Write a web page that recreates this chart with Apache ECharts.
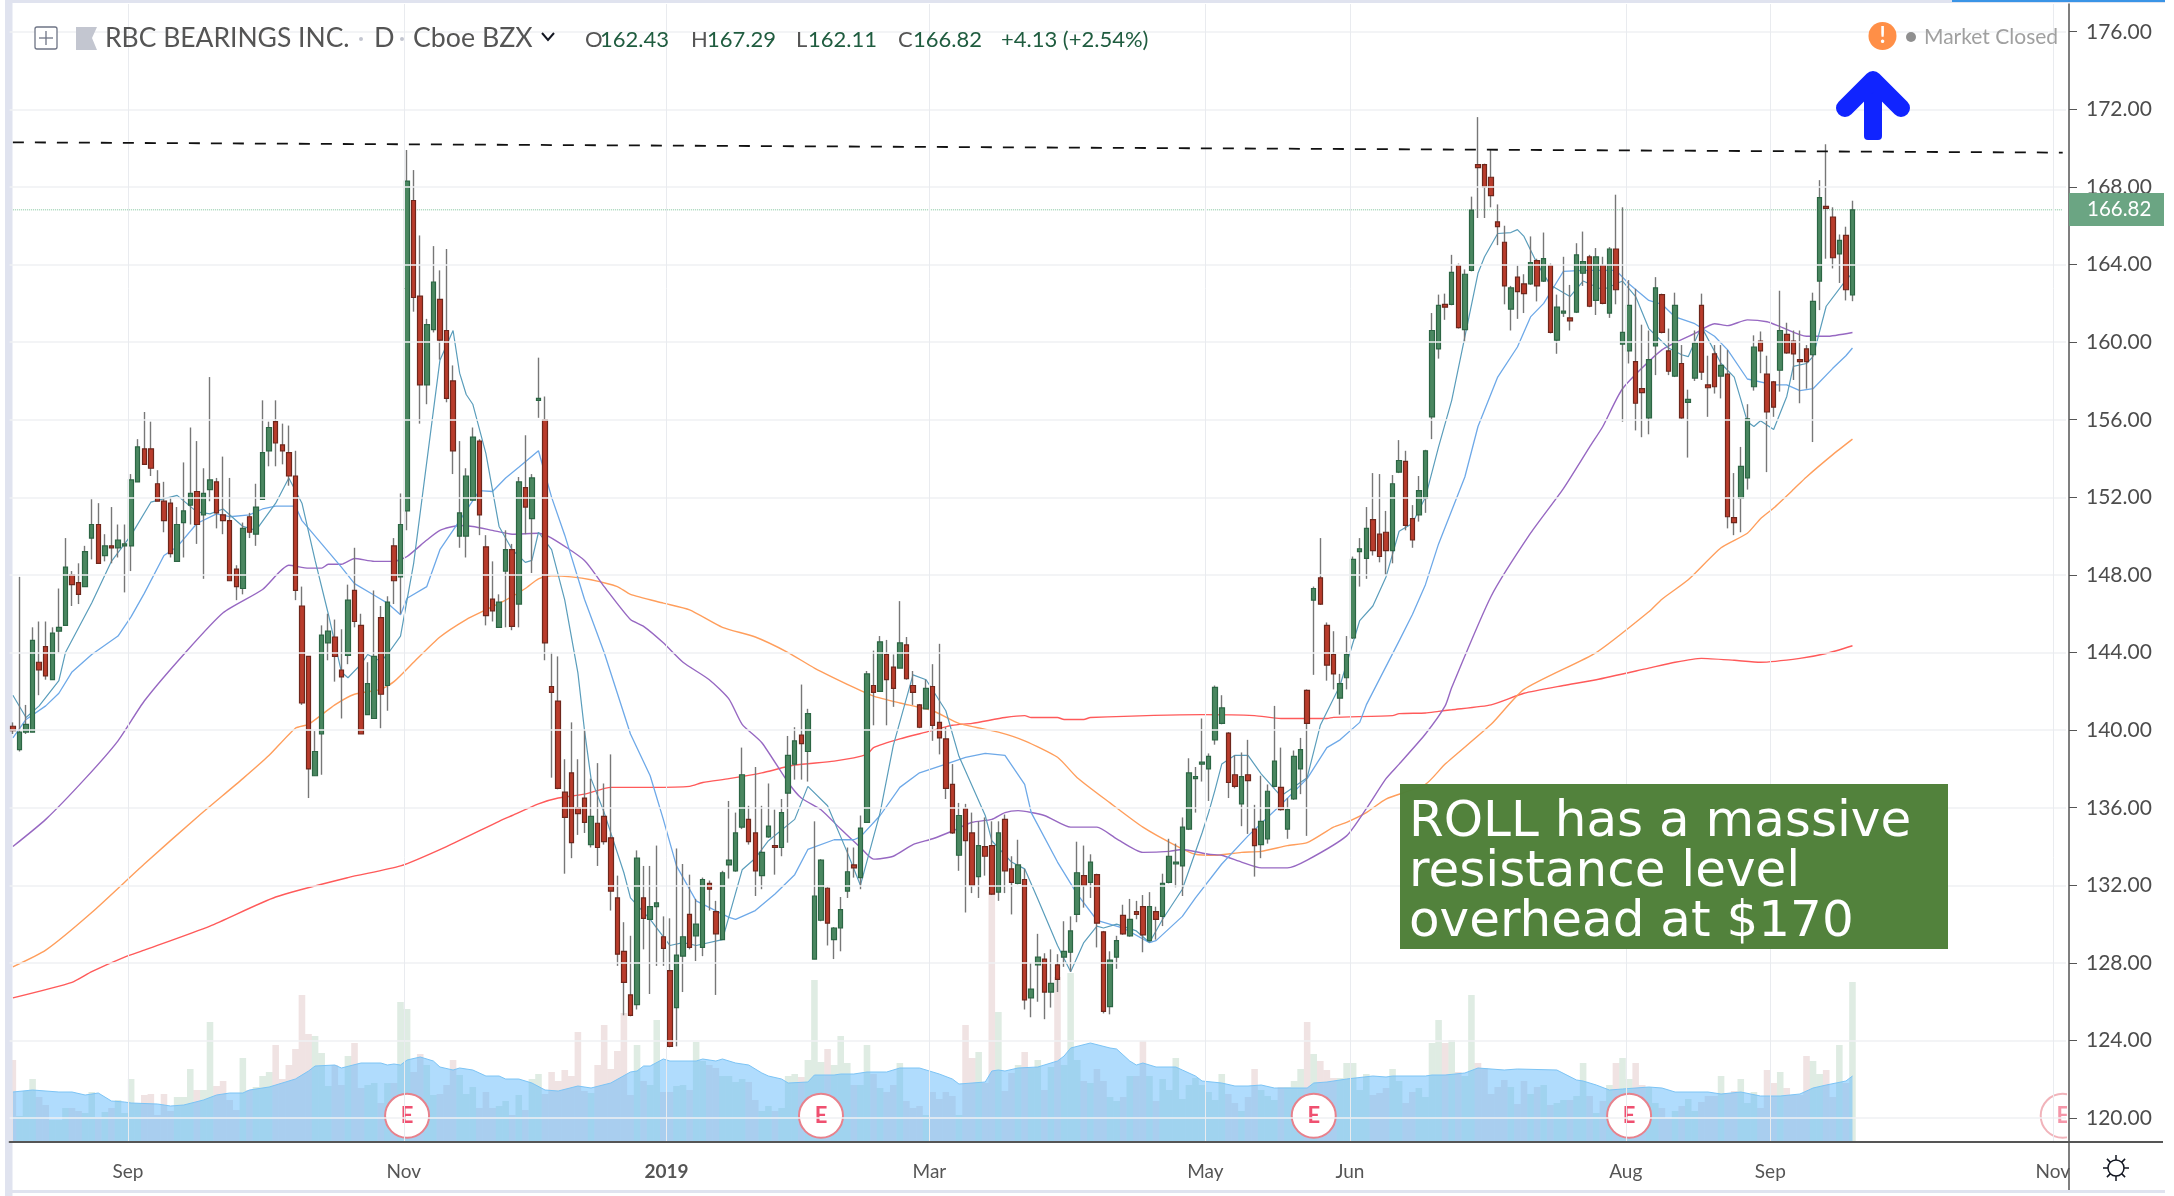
<!DOCTYPE html>
<html>
<head>
<meta charset="utf-8">
<style>
  html, body { margin: 0; padding: 0; background: #fff; }
  #chart { width: 2174px; height: 1196px; }
</style>
<script src="https://cdn.jsdelivr.net/npm/echarts@6/dist/echarts.min.js"></script>
</head>
<body>
<div id="chart"></div>
<script>
// daily candles, Aug 2018 - Sep 2019
const opens = [
  140.2,139.0,139.9,139.9,143.5,144.3,142.6,145.1,145.4,148.0,
  147.6,147.4,149.9,150.6,149.0,149.5,149.4,149.5,149.5,152.8,
  154.5,154.5,152.7,151.8,151.7,148.7,150.7,151.6,152.3,151.1,
  152.4,152.8,151.1,150.8,148.3,147.3,151.0,150.1,151.9,154.4,
  155.9,154.7,154.3,153.1,146.4,143.8,137.65,139.8,144.5,144.8,
  143.1,143.85,147.2,145.4,140.8,140.6,145.8,142.3,149.5,147.9,
  151.3,167.3,162.37,157.8,160.65,162.2,160.6,158.0,150.0,150.0,
  151.85,154.9,149.45,146.75,145.3,148.2,149.3,146.5,152.5,150.9,
  157.0,156,142.25,141.5,136.8,137.8,136,136.5,134.1,135.2,
  135.55,134.45,131.35,128.6,126.35,125.85,131.35,130.25,130.9,129.35,
  127.6,125.7,128.35,130.5,129.4,128.8,132.1,130.65,129.2,133.05,
  132.75,135,135.4,134.7,132.5,134.5,134.05,133.95,136.75,138.25,
  139.75,138.9,128.2,130.2,131.85,129.2,129.8,131.7,133.05,132.4,
  135.25,142.3,142,143.9,143.25,143.2,144.4,142.3,141.3,141.1,
  142.25,140.4,139.55,137.2,133.55,135.95,134.7,132.45,134,134.05,
  131.65,135.4,132.85,132.1,132.3,126.2,127.9,128.2,126.5,127.9,
  128.3,128.55,130.5,132.5,132.15,132.55,129.6,125.75,128.3,130.45,
  129.4,130.65,130.9,129.15,130.65,130.4,132.15,133.1,133,134.9,
  137.5,138.25,138,139.5,140.35,139.85,137.7,136.2,137.7,134.9,
  134.1,134.4,137.1,137.05,134.9,136.45,138,142.05,146.7,147.85,
  145.4,143.9,141.65,142.7,144.75,149.2,148.85,150.85,150.1,150.2,
  149.25,153.3,153.85,150.9,151.1,151.95,156.15,159.65,161.95,161.95,
  163.95,160.65,163.7,169.15,169.15,168.5,166.2,165.15,161.7,163.35,
  163,163,164.2,163.15,163.95,160.1,161.5,161.25,161.55,163.55,
  164.4,162.15,163.95,161.5,164.8,159.9,159.55,159,157.6,156.1,
  159.8,162.45,159.55,158.25,158.9,156.9,158.15,161.9,157.8,159.4,
  158.25,158.35,150.95,151.95,153,157.7,160.05,158.35,157.95,158.55,
  160.4,160.05,159.1,159.65,159.35,163.15,167,166.45,164.55,165.5,162.43
]
const closes = [
  139.97,139.9,140.3,144.63,143.1,142.8,145.0,145.3,148.4,147.5,
  147.0,149.2,150.6,148.6,149.5,149.4,149.8,149.6,152.9,154.6,
  153.7,153.5,151.8,150.8,149.1,150.6,151.3,152.2,150.6,152.2,
  152.9,151.2,150.8,147.7,147.4,150.4,150.2,151.5,154.3,155.6,
  154.8,154.4,153.1,147.2,141.4,138.0,138.9,144.9,145.1,143.8,
  142.75,146.7,145.6,139.8,142.4,143.8,141.85,146.6,147.7,150.6,
  168.3,162.3,157.8,160.9,163.1,160.1,157.1,154.4,151.2,153.1,
  155.1,151.1,145.9,146.15,146.6,149.3,145.35,152.8,151.5,153.0,
  157.1,144.5,141.95,137,135.5,134.2,135.7,135.25,135.55,133.95,
  134.25,131.7,128.45,127,125.3,133.4,130.3,130.9,131.1,128.75,
  123.7,128.4,129.35,128.8,130,132.3,131.8,129.5,132.65,133.3,
  134.7,137.7,134.25,132.75,133.7,135.05,133.95,135.75,138.7,139.45,
  139.3,140.85,131.45,133.3,130.05,129.8,130.75,132.7,132.9,134.95,
  142.9,141.95,144.55,142.6,142.15,144.5,142.65,141.95,140.15,142.15,
  140.25,139.6,137,134.7,135.6,134.3,132,134.05,133.5,131.55,
  134.7,132.75,132.15,133.05,126.1,126.65,128.3,126.5,126.95,127.15,
  128.6,129.65,132.65,132,133.2,130.05,125.5,128.15,129.15,129.5,
  130.25,130.5,129.45,130.9,130.25,132.1,133.5,133.2,135,137.8,
  137.6,138.35,138.65,142.2,141.15,137.3,137.1,137.6,137.4,134.05,
  135.3,136.85,138.4,135.9,135.9,138.65,139,140.35,147.3,146.5,
  143.35,142.9,142.4,143.9,148.8,149.35,150.4,149.25,148.95,149.25,
  152.7,153.9,150.55,149.8,152.35,154.4,160.6,161.9,161.8,163.6,
  160.75,163.5,166.8,169,168,167.55,165.95,162.9,162.8,162.6,
  162.5,164.1,162.9,164.3,160.5,161.8,161.6,161.1,164.5,164.15,
  161.85,164.4,162,164.8,162.7,160.5,161.9,156.85,157.4,159.1,
  162.8,160.5,158.5,161.9,156.1,157.05,159.95,158.45,157.65,157.7,
  158.8,151,150.7,153.6,156.05,159.75,159.55,156.4,156.65,160.6,
  159.45,159.4,159,159,162.1,167.45,166.9,164.35,165.25,162.7,166.82
]
const highs = [
  140.4,147.9,141.3,145.3,145.6,145.6,145.3,147.3,149.9,148.2,
  148.6,149.5,151.9,151.7,150.1,151.5,150.6,150.6,153.2,155.0,
  156.4,155.9,153.4,152.8,152.0,151.5,153.8,155.6,154.9,153.5,
  158.2,153.0,154.1,153.0,148.5,150.7,151.2,152.7,157.0,155.9,
  157.0,155.8,155.7,154.4,147.4,143.8,139.95,145.4,146.0,145.7,
  145.2,147.5,149.4,146.0,143.5,147.2,146.4,146.9,149.9,152.2,
  169.9,168.87,165.5,161.2,164.95,163.7,164.8,158.8,154.9,153.5,
  155.6,155.0,150.05,148.7,147.0,150.3,149.6,153.05,155.2,153.2,
  159.2,157.2,144,143.8,138.5,140.4,138.5,140,137.5,138.3,
  137.25,138.75,132.5,130.1,129.4,133.8,133,133,134.05,130.4,
  130.3,133.9,133.1,132.55,131.3,132.4,132.25,131.2,132.75,136.35,
  135.75,139.1,136.1,138.1,136.1,137.25,135.9,136.45,139.7,140.15,
  142.35,141.1,135.3,133.35,131.9,129.85,131.4,133.95,133.95,135.6,
  143.05,144.1,144.85,144.65,143.9,146.65,144.8,143.05,141.35,142.6,
  143.4,144.45,140.15,138.25,136.25,136.2,135.75,135.3,135.5,135.3,
  135.3,135.65,133.5,134.35,132.85,128,129.5,128.5,128.7,128.45,
  130.15,130.4,134.25,134.05,133.6,132.6,129.65,128.6,129.4,131,
  131.3,131.2,131.5,131.65,130.9,132.6,134.4,134.15,135.5,138.55,
  138.1,140.6,138.8,142.3,141.8,139.9,138.7,138.85,139.5,136.15,
  137.65,137.2,141.25,139.1,136.5,138.95,139.6,142.1,147.4,149.9,
  145.55,145.1,142.9,144.85,148.95,149.9,151.5,153.25,153.2,151.3,
  153.15,154.95,154.4,151.6,153.1,154.45,161.5,162.45,162.5,164.5,
  164.05,163.75,167.5,171.6,169.2,169.9,167.1,166,162.9,163.95,
  163.5,165.45,164.3,165.65,164.05,162.45,164.4,162.95,165.1,165.7,
  164.5,164.85,164.4,164.9,167.6,166.95,163.2,162.75,160.9,160.6,
  163.35,162.5,160.7,162.55,159.85,157.55,160.6,162.5,159.3,159.85,
  159.85,159.6,153.25,154.6,156.8,160.35,160.55,159.3,158,162.65,
  161,160.6,160.6,159.85,162.55,168.35,170.2,166.95,165.55,165.95,167.29
]
const lows = [
  139.8,138.9,139.8,139.9,141.8,142.6,142.6,144.0,145.4,146.4,
  146.5,147.4,148.8,148.6,148.7,148.6,148.9,147.1,148.2,152.8,
  153.7,153.1,151.8,150.2,148.9,148.7,148.9,150.6,149.6,147.8,
  151.8,150.4,150.1,147.7,146.7,147.0,149.9,149.5,151.9,153.6,
  153.6,153.7,152.6,146.7,141.3,136.5,137.65,137.7,143.6,142.5,
  140.6,143.4,145.3,139.8,140.8,140.6,140.1,141.0,146.5,146.0,
  150.3,161.57,155.8,156.8,160.5,159.1,156.9,153.2,149.4,148.9,
  151.85,150.05,145.4,145.6,145.3,145.3,145.15,145.3,150.1,148.1,
  156.1,143.6,137.55,136.95,132.6,133.4,134.6,134.7,133.95,133,
  134.1,130.7,127.85,125.3,125.25,125.6,128.7,126.4,127.85,127.85,
  123.65,123.7,126.5,128.7,128.1,128.35,130.7,126.35,129.2,132.35,
  132.7,134.9,134.1,131.45,131.8,134.45,132.55,133.5,134.2,137.45,
  137.45,137.35,128.2,130.15,128.9,128.2,128.6,131.35,132.4,131.8,
  135.25,140.25,142,140.25,141.2,143.2,142.6,141.3,140.1,141.1,
  139.45,138.75,136.45,134.65,132.75,130.6,131.6,131.35,132.5,131.5,
  131.2,131.6,130.5,132.05,125.6,125.2,126,125.1,125.7,126.5,
  127.8,127.55,130.1,130.85,131.35,128.8,125.4,125.35,127.7,129.45,
  129.35,130.25,128.55,129.1,129.2,129.9,132.1,131.9,131.45,134.85,
  135.75,137.35,136.35,139.25,140.3,136.5,137,135.05,134.65,132.45,
  133.4,134.15,137.05,135.85,134.4,136.4,136.7,134.55,142.85,146.45,
  142.55,142.1,140.8,142.1,144.7,147.4,147.8,149,148.65,148,
  148.6,153.25,150.3,149.4,150.75,151.2,155,159.15,161.15,161.9,
  160.7,160,163.65,166.4,166.4,166.95,165,161.95,160.6,161.2,
  161.5,162.95,162.1,163.1,160.45,159.4,161.3,160.6,161.5,162.9,
  161.8,161.4,161.95,161.25,161.95,155.9,158.9,155.45,155.1,155.25,
  158.3,160.45,158.3,158.2,156.05,154.05,158,158.05,156.15,157.35,
  157.1,150.4,150.05,150.2,152.4,157.5,158.4,153.3,156.15,157.45,
  159.4,158.05,156.85,157.6,154.85,161.65,164.3,163.8,163.05,162.15,162.11
]
const volumes = [
  82,26,51,63,45,37,22,22,34,34,31,29,50,25,30,34,42,29,63,39,
  47,48,27,48,31,45,45,73,52,52,120,56,61,42,32,84,52,55,66,70,
  97,63,77,93,147,108,106,89,56,77,57,86,99,54,57,59,39,59,59,140,
  133,70,88,77,47,48,57,82,67,48,55,34,50,34,36,41,27,47,32,63,
  68,48,70,61,72,66,110,51,49,77,117,73,91,129,47,97,61,57,122,50,
  50,56,57,52,100,81,77,74,66,66,60,63,60,42,31,36,31,34,66,68,
  65,82,162,80,93,77,106,79,57,57,97,68,54,50,57,79,41,34,36,27,
  50,43,50,46,27,117,84,90,59,250,130,51,69,77,90,74,82,52,75,165,
  77,169,82,61,59,73,61,45,41,45,66,66,101,66,41,63,52,84,43,57,
  64,57,50,42,68,48,39,31,45,73,52,46,42,55,55,61,73,120,88,81,
  72,64,64,79,79,52,68,47,49,54,73,61,39,50,54,45,99,122,99,102,
  70,66,147,79,74,48,55,62,55,38,61,48,55,57,37,39,42,42,46,79,
  46,29,41,57,79,84,63,79,57,55,39,34,24,31,36,43,31,40,46,46,
  66,49,51,63,39,50,34,72,59,70,54,47,47,86,81,68,72,45,97,59,160
]

// moving averages and the volume average: [candle index, value] at each bend of the line
const maTeal = [[0,141.8],[2,140.65],[4,141.25],[7,142.55],[8,144],[12,146.55],[15,148.7],[18,150.05],[21,151.75],[25,152.1],[28,151.25],[30,151.15],[32,151.4],[35,150.5],[37,150.3],[40,151.7],[42,153],[44,151.7],[46,148.75],[48,146],[50,143],[51,142.7],[53,143.4],[54,143.9],[56,143.55],[57,143.9],[59,144.85],[61,148.6],[65,159.07],[67,160.6],[68,158.4],[69,157.3],[70,156.8],[72,154.25],[74,150.5],[76,149.3],[78,148.65],[79,148.75],[80,150.2],[82,149.3],[84,146.7],[86,142.95],[87,140],[88,137.5],[90,135.75],[93,132.65],[94,131.35],[97,130.25],[100,128.9],[102,129.05],[104,128.9],[108,129.2],[110,131.6],[111,132.8],[113,133.4],[115,134.3],[119,135.4],[121,137.1],[124,136.1],[127,133.7],[129,132],[132,135.75],[134,139.2],[137,142.85],[139,142.6],[142,141],[144,138.65],[148,135.6],[149,134.3],[152,133.2],[154,132.85],[156,131.3],[159,128.9],[161,127.55],[163,129.05],[165,129.9],[166,129.8],[168,130],[171,129.65],[173,129.05],[175,130.25],[178,131.8],[181,134.7],[182,135.75],[183,136.95],[184,138.25],[186,138.7],[188,138.7],[190,137.75],[193,136.6],[197,137.55],[199,140.25],[202,142.3],[205,145.65],[207,146.4],[209,147.9],[211,150.25],[213,150.65],[215,152],[217,154.6],[219,157],[223,163.55],[224,164.4],[226,165.6],[228,165.65],[229,165.8],[230,165.45],[232,164.05],[234,162.95],[237,162.35],[239,163.15],[242,162.7],[245,163.15],[247,162.35],[249,160.7],[252,159.7],[254,159.35],[255,159.25],[257,160.8],[260,158.9],[262,158.2],[264,155.9],[265,155.65],[266,155.95],[268,155.5],[270,157.2],[271,158.75],[273,158.9],[274,159.25],[276,161.85],[279,163.2],[280,163.55]]
const maBlue = [[0,139.6],[2,140.55],[5,141.25],[7,141.9],[9,143],[12,143.9],[16,144.85],[18,145.85],[20,147.05],[23,149],[25,149.45],[28,150.65],[31,151.15],[33,151],[36,151.1],[38,151.4],[40,151.55],[43,151.55],[44,150.8],[47,149.6],[50,148.4],[52,147.55],[55,146.95],[57,146.55],[59,145.95],[60,146.8],[63,147.4],[65,149.3],[68,150.8],[71,152.35],[73,152.3],[75,153],[77,153.55],[80,154.4],[82,152],[84,150.05],[87,146.75],[90,144],[94,139.8],[97,137.65],[99,135.4],[101,133],[104,131.2],[109,130.35],[110,130.25],[113,130.7],[116,131.55],[119,132.55],[121,133.85],[125,134.35],[128,134.35],[129,134.5],[132,135.6],[135,137.05],[138,137.8],[142,138.25],[145,138.6],[148,138.8],[151,138.7],[154,137.2],[155,135.75],[159,133.2],[162,131.55],[165,130.2],[169,129.8],[173,129.05],[174,129.15],[178,130.4],[180,131.35],[184,133.1],[188,134.55],[193,136.15],[197,137.5],[200,139.1],[202,139.5],[205,140.4],[206,141.3],[211,144.6],[213,145.95],[215,147.5],[217,149.6],[221,153.05],[223,155.65],[226,158.2],[229,159.75],[231,161.3],[233,162],[235,163.1],[236,163.65],[239,163.7],[244,163.7],[246,163],[249,162.15],[251,161.95],[253,161.3],[256,160.95],[259,160.3],[261,159.6],[264,158.1],[268,157.8],[270,157.8],[272,157.5],[274,157.6],[277,158.65],[279,159.3],[280,159.7]]
const maPurple = [[0,134],[5,135.4],[11,137.5],[16,139.45],[20,141.5],[26,143.9],[32,146.05],[38,147.25],[42,148.5],[45,148.35],[47,148.35],[48,148.55],[50,148.55],[52,148.85],[55,148.7],[58,148.7],[60,148.95],[63,149.8],[65,150.3],[68,150.55],[70,150.5],[73,150.3],[76,150.1],[80,150.15],[82,149.9],[87,148.75],[90,147.4],[94,145.7],[96,145.35],[99,144.5],[102,143.5],[106,142.6],[109,141.6],[111,140.3],[114,139.35],[118,137.3],[120,136.5],[123,135.9],[126,134.9],[129,133.95],[131,133.35],[134,133.5],[137,134.1],[140,134.4],[143,134.8],[146,135.25],[149,135.4],[151,135.75],[153,135.85],[157,135.6],[161,135],[165,135],[168,134.4],[172,133.7],[176,133.75],[178,133.85],[182,133.6],[184,133.55],[187,133.2],[190,132.9],[194,132.9],[197,133.3],[203,134.55],[206,135.95],[209,137.5],[211,138.25],[215,139.8],[218,141.25],[219,142.2],[225,146.9],[231,150.15],[236,152.45],[240,154.6],[242,155.65],[245,157.6],[251,159.6],[256,160.45],[259,160.95],[261,160.85],[264,161.15],[267,161.05],[269,160.8],[273,160.3],[276,160.3],[280,160.5]]
const maOrange = [[0,127.8],[5,128.66],[12,130.6],[20,133.1],[28,135.5],[35,137.5],[39,138.7],[43,140.1],[45,140.3],[49,141.3],[52,141.85],[56,142.1],[58,142.5],[61,143.5],[65,144.8],[69,145.7],[72,146.2],[75,146.7],[78,147.3],[80,147.8],[82,147.95],[85,147.9],[88,147.75],[92,147.4],[94,147],[99,146.55],[103,146.2],[108,145.3],[113,144.8],[118,144],[122,143.2],[128,142.2],[131,141.75],[135,141.4],[140,141],[144,140.35],[150,139.9],[154,139.45],[159,138.6],[162,137.55],[167,136.25],[172,135],[177,134.05],[180,133.6],[183,133.55],[187,133.7],[190,133.75],[194,134.05],[197,134.2],[201,135],[203,135.25],[206,135.75],[209,136.45],[215,137.2],[218,138.25],[225,140.3],[230,142.1],[241,144],[249,146.1],[251,146.75],[255,147.75],[260,149.4],[264,150.15],[266,150.9],[268,151.45],[271,152.4],[273,153.05],[277,154.2],[280,155]]
const maRed = [[0,126.2],[9,127],[12,127.55],[17,128.3],[20,128.66],[30,129.9],[40,131.4],[51,132.4],[59,133],[66,134],[74,135.3],[76,135.6],[80,136.2],[83,136.5],[87,136.7],[91,137.05],[97,137.05],[103,137.1],[105,137.3],[109,137.5],[114,137.8],[119,138.2],[125,138.4],[130,138.75],[131,139.1],[135,139.55],[139,139.9],[143,140.25],[146,140.35],[151,140.65],[154,140.75],[155,140.65],[159,140.65],[160,140.55],[163,140.55],[164,140.65],[181,140.8],[189,140.75],[193,140.6],[200,140.6],[201,140.66],[210,140.75],[211,140.85],[215,140.88],[217,140.97],[219,141.05],[225,141.3],[230,141.9],[236,142.3],[241,142.6],[249,143.2],[253,143.5],[257,143.7],[262,143.6],[266,143.5],[272,143.7],[276,143.95],[280,144.35]]
const volumeAvg = [[0,50],[3,52],[7,50],[9,50],[11,47],[13,49],[15,41],[17,40],[18,39],[22,38],[24,36],[26,37],[29,42],[31,47],[33,49],[35,49],[36,52],[39,55],[43,63],[45,71],[46,76],[49,77],[50,74],[53,79],[56,79],[57,77],[58,78],[59,77],[60,82],[62,85],[64,81],[65,75],[67,72],[68,74],[70,72],[72,66],[74,66],[75,63],[77,63],[79,59],[81,52],[83,51],[86,56],[88,54],[91,59],[94,70],[95,71],[96,76],[97,76],[99,83],[100,81],[104,81],[105,83],[107,81],[108,83],[110,79],[112,77],[114,69],[115,66],[117,63],[118,59],[121,60],[122,67],[125,67],[126,68],[128,68],[130,70],[133,70],[135,74],[138,74],[141,68],[143,63],[144,58],[148,60],[149,71],[150,72],[151,71],[153,74],[156,75],[159,81],[160,86],[161,94],[164,99],[167,94],[168,93],[170,81],[171,77],[172,79],[174,75],[177,75],[178,72],[180,66],[181,61],[184,59],[186,56],[188,56],[190,57],[192,54],[197,54],[198,59],[200,60],[203,63],[207,66],[209,65],[210,66],[215,66],[216,67],[218,67],[221,69],[223,74],[227,72],[229,73],[235,72],[238,62],[239,61],[241,57],[243,52],[245,53],[249,55],[251,54],[253,50],[258,50],[260,48],[263,50],[266,46],[269,46],[272,48],[274,54],[276,57],[279,61],[280,66]]

// overhead resistance line and last price
const resistance = [[0,170.3],[312,169.77]]
const lastPrice = 166.82

// axes
const barSlots = 313
const priceTicks = [120,124,128,132,136,140,144,148,152,156,160,164,168,172,176]
const monthIndex = [18,60,100,140,182,204,246,268,311]
const monthNames = ['Sep','Nov','2019','Mar','May','Jun','Aug','Sep','Nov']
const earningsIndex = [60,123,198,246]
const nextEarningsIndex = [312]

const categories = []
for (let i = 0; i < barSlots; i++) categories.push(String(i))

const wickData = opens.map((o, i) => [o, closes[i], lows[i], highs[i]])
const bodyData = opens.map((o, i) => [o, closes[i], Math.min(o, closes[i]), Math.max(o, closes[i])])
const volumeData = volumes.map((v, i) => ({
  value: v,
  itemStyle: { color: closes[i] >= opens[i] ? 'rgba(76,150,100,0.18)' : 'rgba(170,100,100,0.18)' }
}))

function maSeries(data, color, width, smooth) {
  return {
    type: 'line',
    data: data,
    symbol: 'none',
    smooth: smooth || false,
    z: 3,
    silent: true,
    lineStyle: { color: color, width: width }
  }
}

function earningsSeries(index, opacity) {
  return {
    type: 'scatter',
    data: index.map(i => [i, 120.12]),
    symbol: 'circle',
    symbolSize: 44,
    z: 2.5,
    silent: true,
    itemStyle: { color: '#fff', borderColor: '#e8818c', borderWidth: 2, opacity: opacity },
    label: { show: true, position: 'inside', formatter: 'E', color: '#ef5070', opacity: opacity, fontWeight: 'bold', fontFamily: 'Lato', fontSize: 22 }
  }
}

function txt(text, x, y, size, color, extra) {
  return {
    type: 'text',
    z: 20,
    x: x,
    y: y,
    scaleX: extra && extra.scaleX ? extra.scaleX : 1,
    style: {
      text: text,
      fill: color,
      font: (extra && extra.weight ? extra.weight + ' ' : '') + size + 'px ' + (extra && extra.family ? extra.family : 'Lato'),
      verticalAlign: 'middle',
      align: extra && extra.align ? extra.align : 'left'
    }
  }
}

function rect(x, y, w, h, fill, z) {
  return { type: 'rect', z: z || 20, shape: { x: x, y: y, width: w, height: h }, style: { fill: fill } }
}

function seg(x1, y1, x2, y2, color, width, z) {
  return { type: 'line', z: z || 20, shape: { x1: x1, y1: y1, x2: x2, y2: y2 }, style: { stroke: color, lineWidth: width } }
}

const gear = []
const gearDirs = [[0,-1],[0.7,-0.7],[1,0],[0.7,0.7],[0,1],[-0.7,0.7],[-1,0],[-0.7,-0.7]]
gearDirs.forEach(d => {
  gear.push(seg(2116 + d[0] * 8, 1168 + d[1] * 8, 2116 + d[0] * 13, 1168 + d[1] * 13, '#131722', 1.5))
})

const overlay = [
  // white right-hand panel, y axis is drawn above it
  rect(2067, 0, 107, 1196, '#fff', 3),
  rect(0, 0, 5, 1196, '#fff', 4),
  // screenshot frame
  rect(5, 0, 7.5, 1196, '#e0e3ef', 4),
  rect(5, 0, 2160, 3, '#e0e3ef', 4),
  rect(1952, 0, 213, 2, '#3a94e6', 4),
  rect(5, 1190, 2160, 3, '#e0e3ef', 4),
  rect(2165, 0, 9, 1196, '#fff', 4),
  seg(2066, 1142, 2163, 1142, '#555', 2, 6),
  seg(2069, 1142, 2069, 1190, '#555', 1.5, 6),

  // header
  { type: 'rect', z: 20, shape: { x: 35, y: 27, width: 22, height: 22, r: 2 }, style: { fill: '#fff', stroke: '#6e7485', lineWidth: 1.3 } },
  seg(46, 31, 46, 45, '#6e7485', 1.3),
  seg(39, 38, 53, 38, '#6e7485', 1.3),
  { type: 'polygon', z: 20, shape: { points: [[76,27],[97,27],[92,38],[97,50],[76,50]] }, style: { fill: '#c3c6d0' } },
  txt('RBC BEARINGS INC.', 105, 38, 27, '#555', { scaleX: 0.98 }),
  { type: 'circle', z: 20, shape: { cx: 361, cy: 39, r: 2 }, style: { fill: '#c3c6d0' } },
  txt('D', 374, 38, 27, '#555'),
  { type: 'circle', z: 20, shape: { cx: 402, cy: 39, r: 2 }, style: { fill: '#c3c6d0' } },
  txt('Cboe BZX', 413, 38, 27, '#555', { scaleX: 0.99 }),
  { type: 'polyline', z: 20, shape: { points: [[542,33],[548,40],[554,33]] }, style: { stroke: '#131722', lineWidth: 2, fill: null } },
  txt('O', 585, 40, 22, '#555'),
  txt('162.43', 600, 40, 22, '#1f5c3f'),
  txt('H', 691, 40, 22, '#555'),
  txt('167.29', 707, 40, 22, '#1f5c3f'),
  txt('L', 796, 40, 22, '#555'),
  txt('162.11', 808, 40, 22, '#1f5c3f'),
  txt('C', 898, 40, 22, '#555'),
  txt('166.82', 913, 40, 22, '#1f5c3f'),
  txt('+4.13 (+2.54%)', 1001, 40, 22, '#1f5c3f'),

  // market status
  { type: 'circle', z: 20, shape: { cx: 1882.5, cy: 36, r: 14 }, style: { fill: '#ff8f47' } },
  txt('!', 1882.5, 36, 22, '#fff', { align: 'center', weight: 'bold' }),
  { type: 'circle', z: 20, shape: { cx: 1911, cy: 37, r: 5 }, style: { fill: '#8f8f8f' } },
  txt('Market Closed', 1924, 37, 21, '#a0a0a0'),

  // blue arrow
  { type: 'rect', z: 20, shape: { x: 1864, y: 84, width: 18, height: 56, r: 4 }, style: { fill: '#1024ff' } },
  { type: 'polyline', z: 20, shape: { points: [[1845,108],[1873,80],[1901,108]] }, style: { stroke: '#1024ff', lineWidth: 18, lineCap: 'round', lineJoin: 'round', fill: null } },

  // last price tag
  rect(2069, 193, 95, 33, '#6ba583', 20),
  txt('166.82', 2087, 209.5, 20.5, '#fff'),

  // note box
  rect(1400, 784, 548, 165, 'rgba(79,128,56,0.98)', 20),
  txt('ROLL has a massive', 1409, 823, 50, '#fff', { family: 'DejaVu Sans' }),
  txt('resistance level', 1409, 873, 50, '#fff', { family: 'DejaVu Sans' }),
  txt('overhead at $170', 1409, 923, 50, '#fff', { family: 'DejaVu Sans' }),

  // settings icon
  { type: 'circle', z: 20, shape: { cx: 2116, cy: 1168, r: 8 }, style: { fill: '#fff', stroke: '#131722', lineWidth: 1.5 } }
].concat(gear)

const option = {
  animation: false,
  backgroundColor: '#fff',
  grid: { left: 9.6, top: 4, width: 2056.4, height: 1138 },
  xAxis: {
    type: 'category',
    data: categories,
    boundaryGap: true,
    z: 5,
    axisLine: { lineStyle: { color: '#555', width: 2 } },
    axisTick: {
      length: 7,
      lineStyle: { color: '#777' },
      interval: (i) => monthIndex.indexOf(i) >= 0
    },
    axisLabel: {
      interval: (i) => monthIndex.indexOf(i) >= 0,
      margin: 20,
      padding: [0, 6.6, 0, 0],
      color: '#555',
      fontFamily: 'Lato',
      fontSize: 19,
      formatter: (v, i) => {
        const name = monthNames[monthIndex.indexOf(i)]
        return name === '2019' ? '{b|2019}' : name
      },
      rich: { b: { fontWeight: 'bold', fontSize: 19, color: '#555', fontFamily: 'Lato' } }
    },
    splitLine: {
      show: true,
      showMaxLine: false,
      interval: (i) => monthIndex.indexOf(i) >= 0,
      lineStyle: { color: '#e9ebef', width: 1 }
    }
  },
  yAxis: [
    {
      type: 'value',
      position: 'right',
      offset: 3,
      min: 118.77,
      max: 177.43,
      z: 5,
      axisLine: { show: true, lineStyle: { color: '#555', width: 1.5 } },
      axisTick: { show: true, length: 8, lineStyle: { color: '#555' }, customValues: priceTicks },
      axisLabel: {
        customValues: priceTicks,
        margin: 17,
        color: '#4d4d4d',
        fontFamily: 'Lato',
        fontSize: 21,
        formatter: (v) => v.toFixed(2)
      },
      splitLine: { show: true, lineStyle: { color: '#eff0f3', width: 1.5 } }
    },
    { type: 'value', min: 0, max: 1138, show: false }
  ],
  graphic: { elements: overlay },
  series: [
    {
      type: 'bar',
      yAxisIndex: 1,
      data: volumeData,
      barWidth: '100%',
      z: 1,
      silent: true
    },
    {
      type: 'line',
      yAxisIndex: 1,
      data: volumeAvg,
      symbol: 'none',
      z: 2,
      silent: true,
      lineStyle: { color: '#7cc4f5', width: 1 },
      areaStyle: { color: 'rgba(97,185,251,0.5)', opacity: 1 }
    },
    maSeries(maRed, '#ff5a5a', 1.4, 0.2),
    maSeries(maOrange, '#ff9e5c', 1.4, 0.2),
    maSeries(maPurple, '#9768c2', 1.4, 0.2),
    maSeries(maBlue, '#6ea9e8', 1.3),
    maSeries(maTeal, '#5a9dbb', 1.2),
    {
      type: 'line',
      data: opens.length ? [[0, lastPrice], [barSlots - 1, lastPrice]] : [],
      symbol: 'none',
      z: 2,
      silent: true,
      lineStyle: { color: '#7fc39b', width: 1, type: 'dotted' }
    },
    {
      type: 'candlestick',
      data: wickData,
      barWidth: 1,
      z: 4,
      silent: true,
      itemStyle: { color: '#777', color0: '#777', borderColor: '#777', borderColor0: '#777', borderWidth: 1.4 }
    },
    {
      type: 'candlestick',
      data: bodyData,
      barWidth: 5,
      z: 4,
      silent: true,
      itemStyle: { color: '#4a8760', color0: '#b93c2c', borderColor: '#2c6644', borderColor0: '#6e271c', borderWidth: 1.2 }
    },
    {
      type: 'line',
      data: resistance,
      symbol: 'none',
      z: 5,
      silent: true,
      lineStyle: { color: '#111', width: 1.8, type: [11, 11] }
    },
    earningsSeries(earningsIndex, 1),
    earningsSeries(nextEarningsIndex, 0.6)
  ]
}

const chart = echarts.init(document.getElementById('chart'))
chart.setOption(option)
</script>
</body>
</html>
